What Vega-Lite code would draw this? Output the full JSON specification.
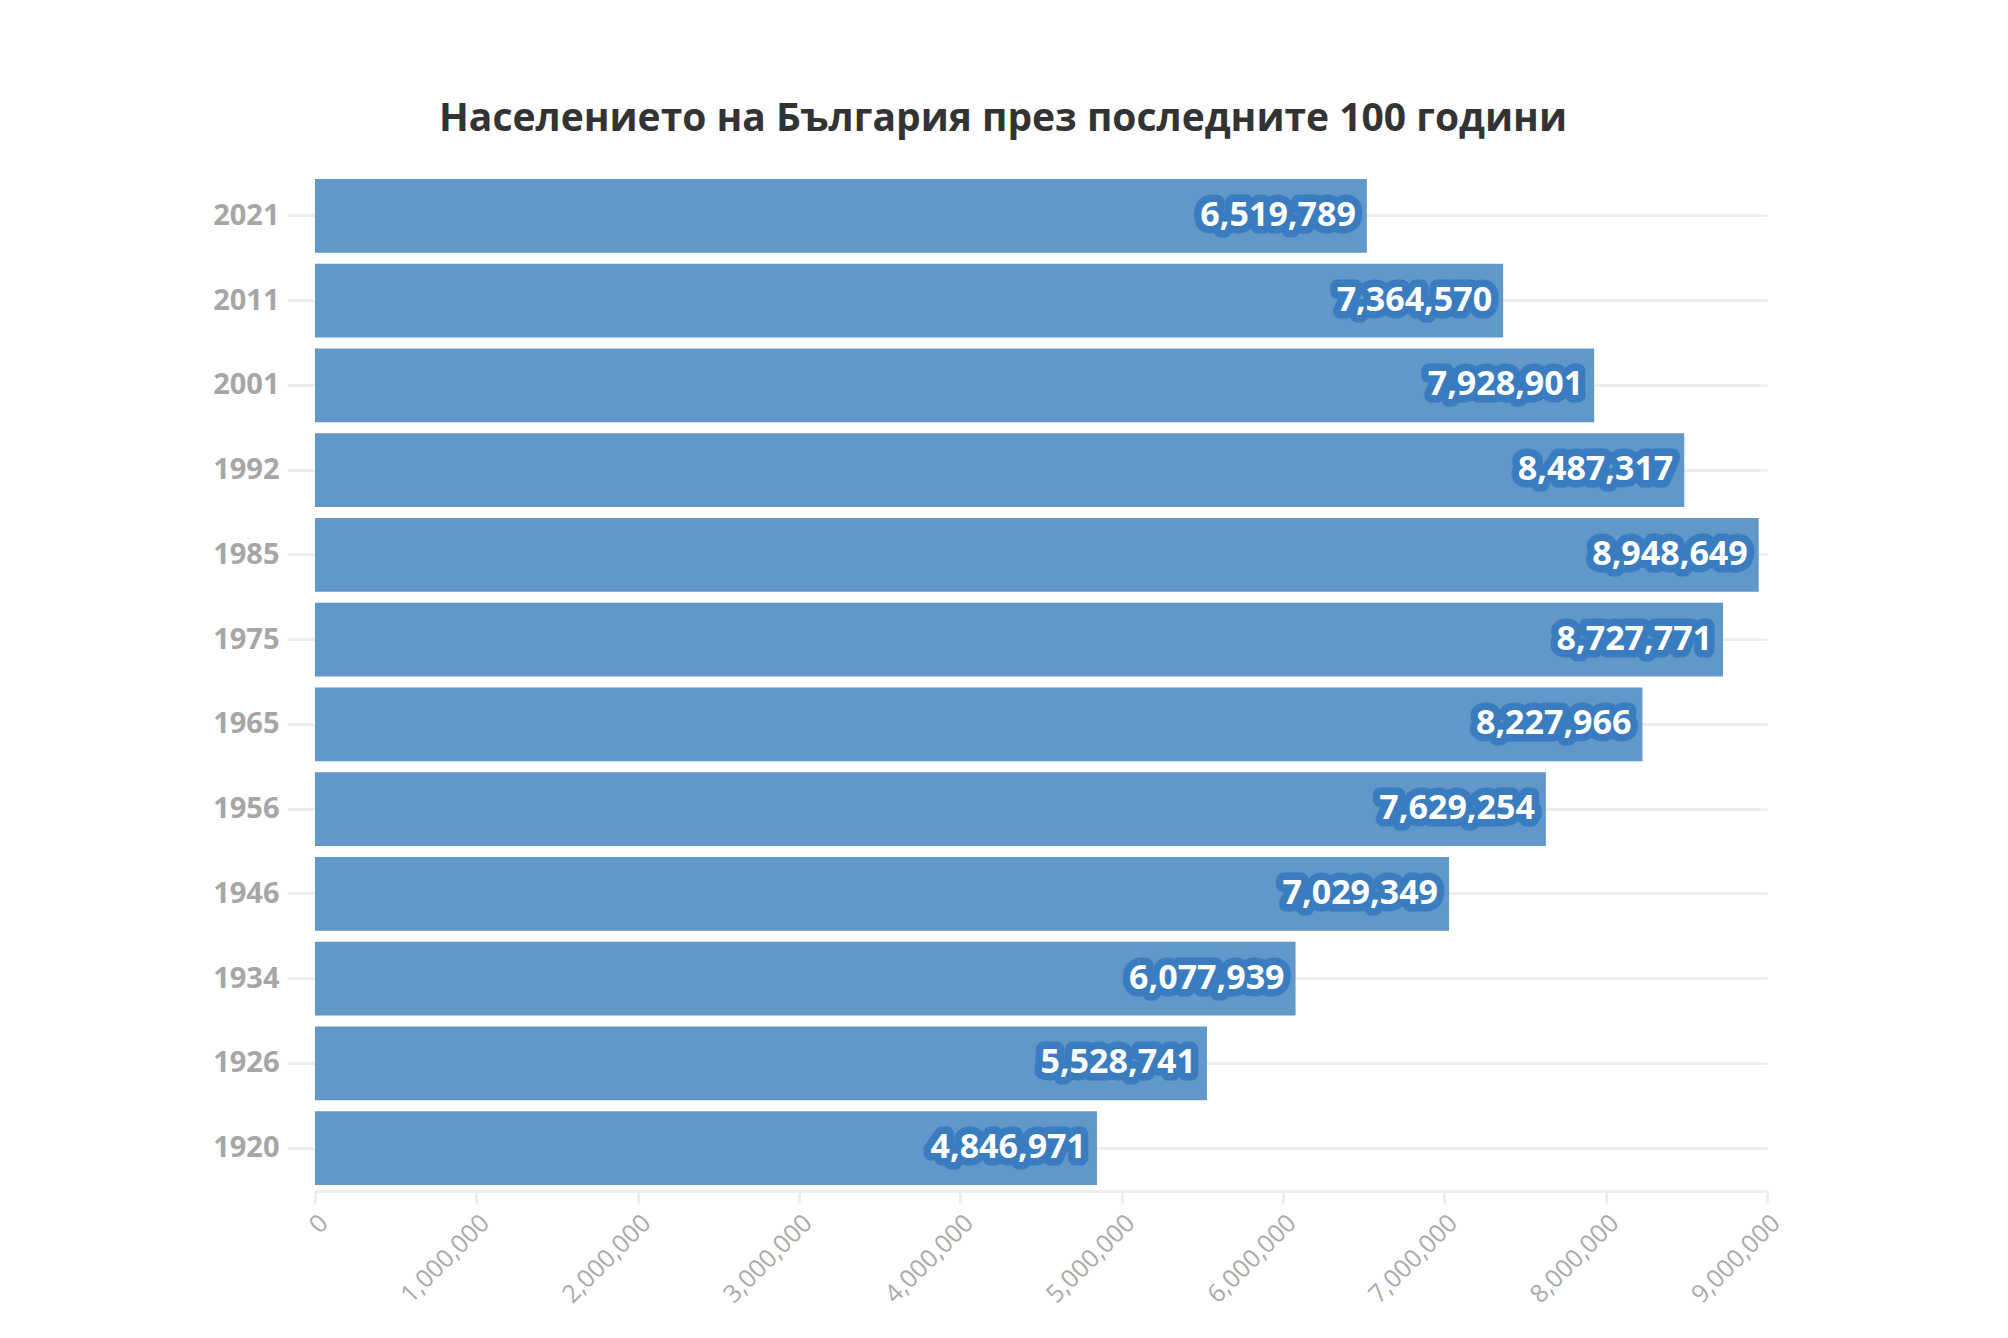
{
  "$schema": "https://vega.github.io/schema/vega-lite/v6.json",
  "autosize": {"type": "none"},
  "width": 1452,
  "height": 1018,
  "padding": {"left": 315, "top": 173, "right": 241, "bottom": 147},
  "background": "white",
  "title": {
    "text": "Населението на България през последните 100 години",
    "font": "Open Sans",
    "fontSize": 39,
    "fontWeight": "bold",
    "color": "#333333",
    "anchor": "middle",
    "dx": -38,
    "offset": 34
  },
  "data": {
    "values": [
      {"year": "2021", "population": 6519789},
      {"year": "2011", "population": 7364570},
      {"year": "2001", "population": 7928901},
      {"year": "1992", "population": 8487317},
      {"year": "1985", "population": 8948649},
      {"year": "1975", "population": 8727771},
      {"year": "1965", "population": 8227966},
      {"year": "1956", "population": 7629254},
      {"year": "1946", "population": 7029349},
      {"year": "1934", "population": 6077939},
      {"year": "1926", "population": 5528741},
      {"year": "1920", "population": 4846971}
    ]
  },
  "encoding": {
    "y": {
      "field": "year",
      "type": "ordinal",
      "sort": "descending",
      "title": null,
      "scale": {"paddingInner": 0.13, "paddingOuter": 0.07},
      "axis": {
        "domain": false,
        "grid": true,
        "gridColor": "#eeeeee",
        "gridWidth": 3,
        "tickColor": "#eeeeee",
        "tickWidth": 3,
        "tickSize": 28,
        "labelPadding": 8,
        "labelFont": "Open Sans",
        "labelFontSize": 29,
        "labelFontWeight": "bold",
        "labelColor": "#a6a6a6"
      }
    },
    "x": {
      "field": "population",
      "type": "quantitative",
      "title": null,
      "scale": {"domain": [0, 9000000], "nice": false},
      "axis": {
        "tickCount": 10,
        "labelExpr": "format(datum.value, ',')",
        "grid": false,
        "domainColor": "#eeeeee",
        "domainWidth": 3,
        "tickColor": "#eeeeee",
        "tickWidth": 3,
        "tickSize": 12,
        "labelAngle": -45,
        "labelFont": "Open Sans",
        "labelFontSize": 25,
        "labelColor": "#aaaaaa",
        "labelPadding": 7
      }
    }
  },
  "layer": [
    {
      "mark": {"type": "bar", "color": "#6197c9"}
    },
    {
      "mark": {
        "type": "text",
        "align": "right",
        "baseline": "middle",
        "dx": -11,
        "font": "Open Sans",
        "fontSize": 34,
        "fontWeight": "bold",
        "fill": "#3a7cc0",
        "stroke": "#3a7cc0",
        "strokeWidth": 15,
        "strokeJoin": "round"
      },
      "encoding": {"text": {"field": "population", "type": "quantitative", "format": ","}}
    },
    {
      "mark": {
        "type": "text",
        "align": "right",
        "baseline": "middle",
        "dx": -11,
        "font": "Open Sans",
        "fontSize": 34,
        "fontWeight": "bold",
        "color": "white"
      },
      "encoding": {"text": {"field": "population", "type": "quantitative", "format": ","}}
    }
  ],
  "config": {"view": {"stroke": null}}
}
